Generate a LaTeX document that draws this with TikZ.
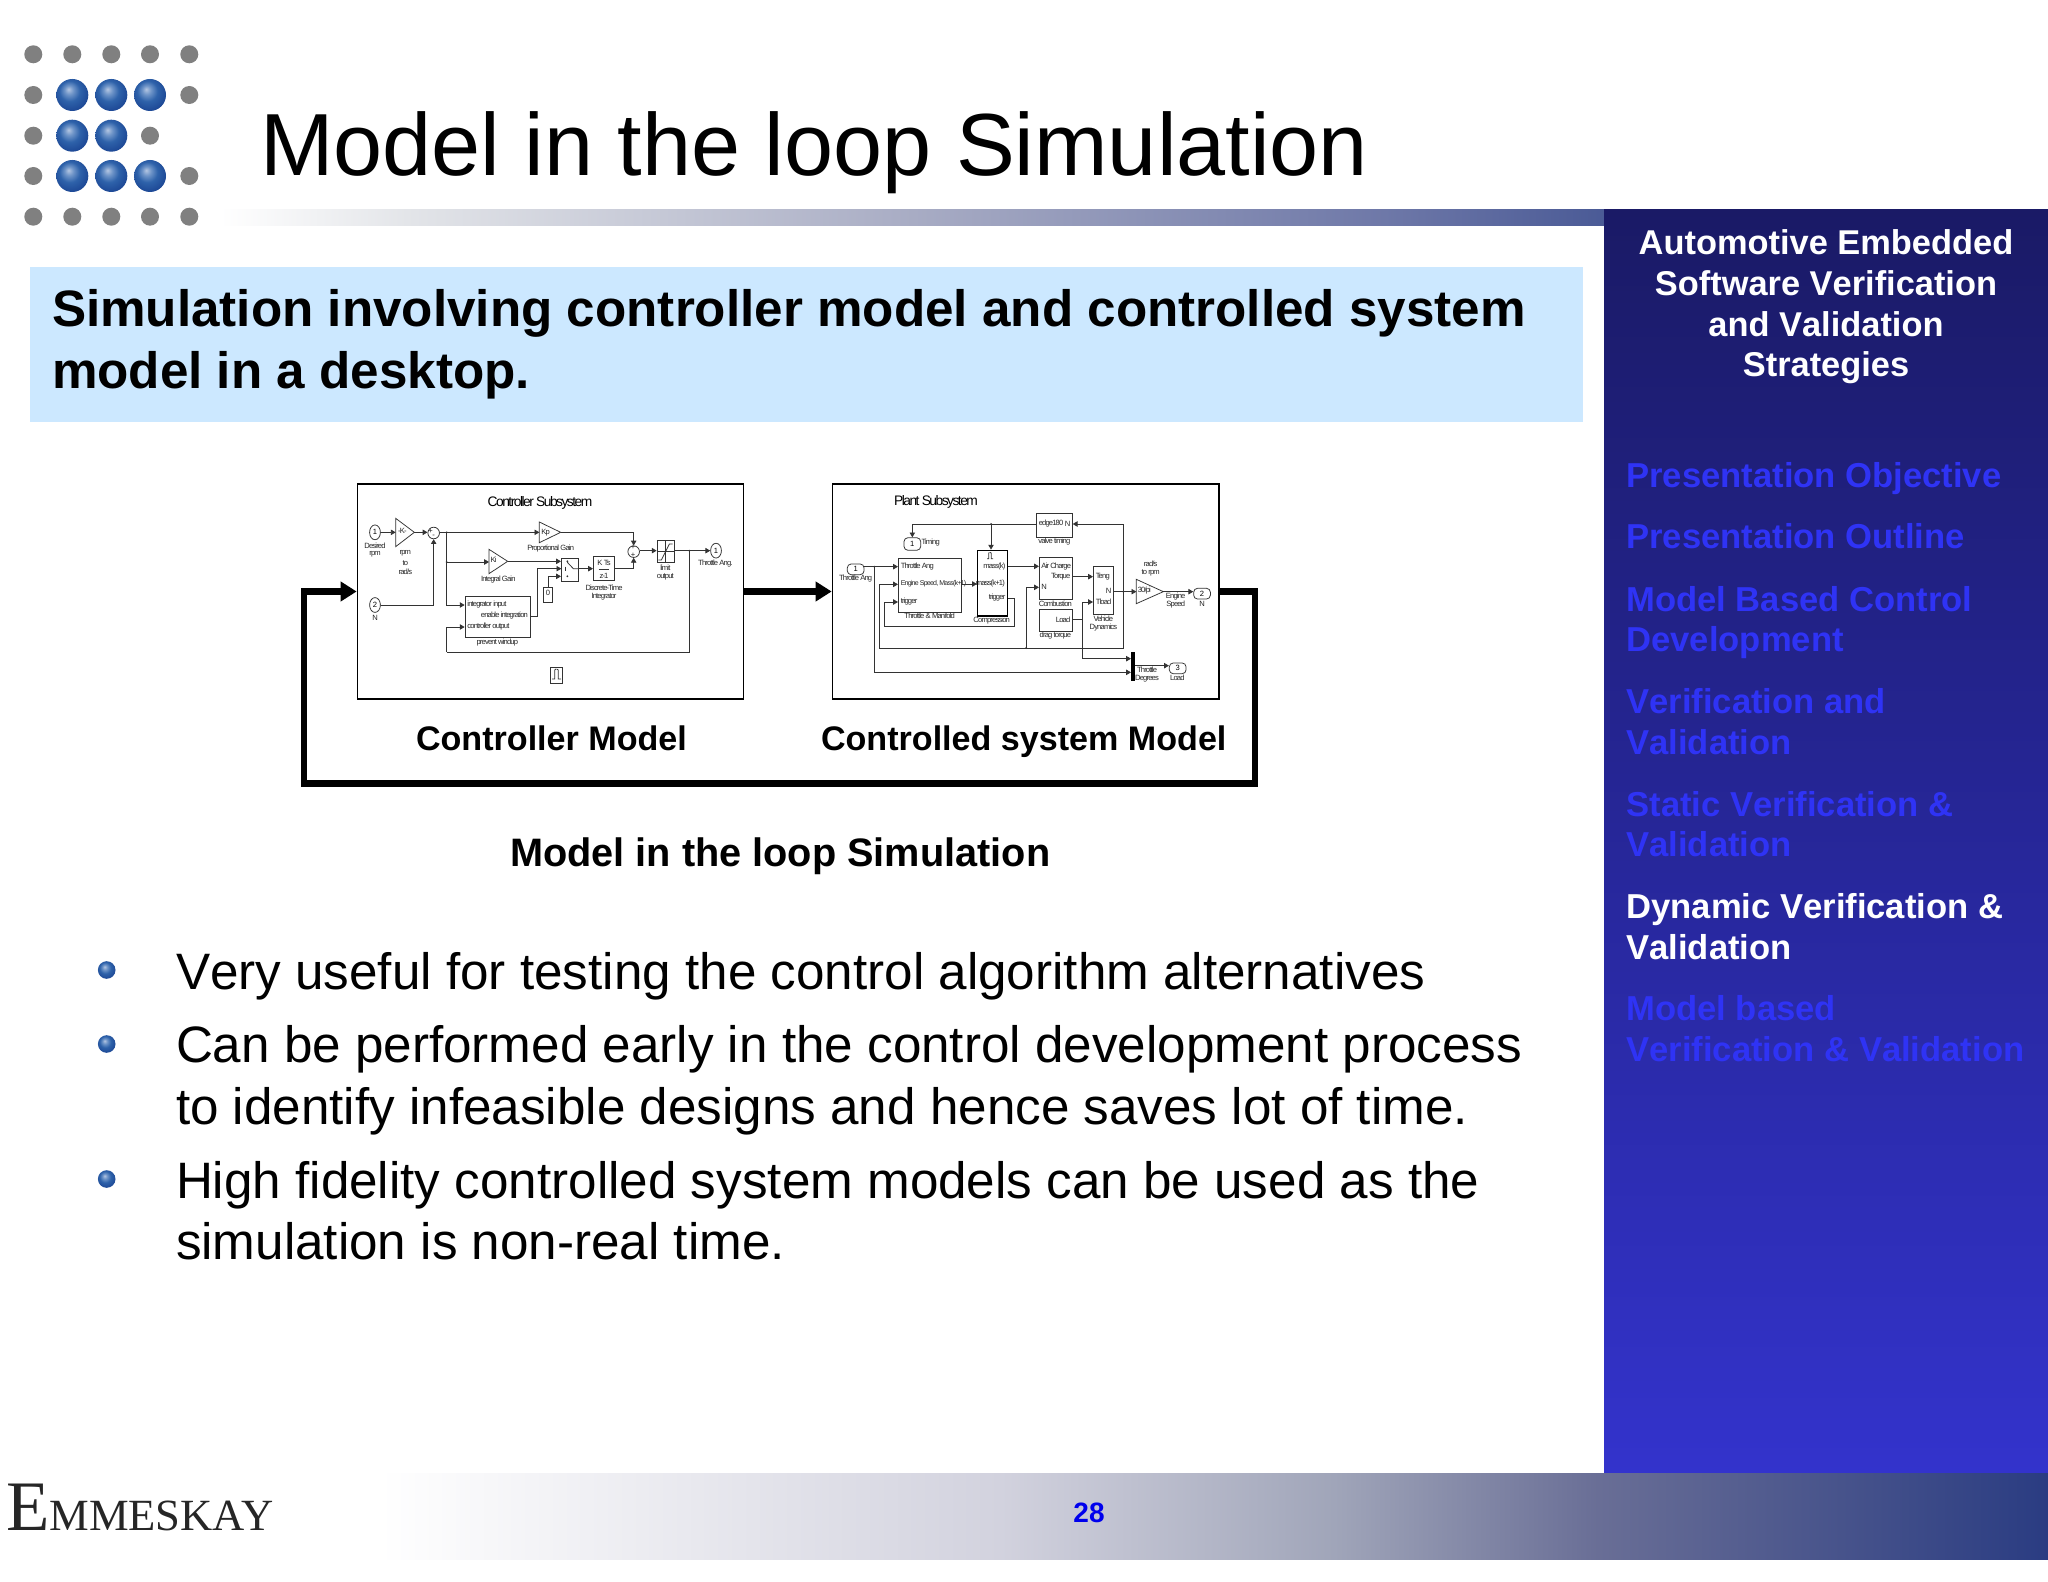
\documentclass[tikz,border=0pt]{standalone}
\usepackage{fontspec}
\setmainfont[Kerning=Off]{Liberation Sans}
\newfontfamily\logoserif{Liberation Serif}
\newfontfamily\simfont[LetterSpace=-11]{Liberation Sans}
\usetikzlibrary{arrows.meta,shapes.geometric,fit}
\definecolor{sidetop}{HTML}{1A1A66}
\definecolor{sidebot}{HTML}{3333CC}
\definecolor{sideitem}{HTML}{2F33F5}
\definecolor{headbox}{HTML}{CCE8FF}
\definecolor{dotgray}{HTML}{808080}
\definecolor{ballA}{HTML}{B4C6E2}
\definecolor{ballB}{HTML}{6E94C8}
\definecolor{ballC}{HTML}{2E62AA}
\definecolor{ballD}{HTML}{1B4593}
\definecolor{fa}{HTML}{FFFFFF}
\definecolor{fb}{HTML}{D2D2DE}
\definecolor{fc}{HTML}{A0A5B9}
\definecolor{fd}{HTML}{696E96}
\definecolor{fe}{HTML}{2A3C82}
\definecolor{bb}{HTML}{E2E4E8}
\definecolor{bc}{HTML}{A8ACC4}
\definecolor{bd}{HTML}{6E78A8}
\definecolor{be}{HTML}{4A5A96}
\definecolor{wirec}{HTML}{333333}
\pgfdeclareradialshading{sphere}{\pgfpoint{-6bp}{9bp}}{
  color(0bp)=(ballA); color(7bp)=(ballB); color(16bp)=(ballC); color(30bp)=(ballD); color(50bp)=(ballD)}
\pgfdeclarehorizontalshading{footshade}{100bp}{
  color(0bp)=(fa); color(25bp)=(fa); color(43.6bp)=(fb); color(53.6bp)=(fc); color(61.5bp)=(fd); color(75bp)=(fe); color(100bp)=(fe)}
\pgfdeclarehorizontalshading{barshade}{100bp}{
  color(0bp)=(fa); color(25bp)=(fa); color(32bp)=(bb); color(50bp)=(bc); color(67bp)=(bd); color(75bp)=(be); color(100bp)=(be)}
\tikzset{
  txt/.style={inner sep=0pt,outer sep=0pt,anchor=base west,text=black},
  sideT/.style={inner sep=0pt,anchor=base,text=white,font=\fontsize{17.2}{20}\selectfont\bfseries},
  sideI/.style={inner sep=0pt,anchor=base west,text=sideitem,font=\fontsize{17.3}{20}\selectfont\bfseries},
  bullettext/.style={txt,font=\fontsize{25.6}{30}\selectfont},
  heading/.style={txt,font=\fontsize{25.6}{30}\selectfont\bfseries},
  greydot/.style={circle,fill=dotgray,minimum size=9pt,inner sep=0pt},
  blueball/.style={circle,shading=sphere,minimum size=16pt,inner sep=0pt},
  bulletdot/.style={circle,shading=sphere,minimum size=8.8pt,inner sep=0pt},
  bigbox/.style={draw=black,fill=white,line width=0.85pt,inner sep=0pt},
  bigarrow/.style={draw=black,line width=3.4pt,miter limit=10,-{Triangle[length=8pt,width=9.5pt]}},
  blk/.style={draw=wirec,line width=0.38pt,inner sep=0pt},
  wire/.style={draw=wirec,line width=0.38pt},
  tri/.style={wire},
  warrow/.style={wire,-{Triangle[length=2.4pt,width=2.7pt]}},
  sl/.style={inner sep=0pt,text=black!85,font=\fontsize{3.8}{4}\simfont},
  sll/.style={sl,anchor=west},
  slr/.style={sl,anchor=east},
  sport/.style={draw=wirec,line width=0.38pt,ellipse,inner sep=0pt,minimum width=5.4pt,minimum height=7.4pt,font=\fontsize{3.8}{4}\simfont},
  rport/.style={draw=wirec,line width=0.38pt,rounded corners=2pt,rectangle,inner sep=0pt,minimum width=8.4pt,minimum height=5.4pt,font=\fontsize{3.8}{4}\simfont},
  ssum/.style={draw=wirec,line width=0.38pt,circle,inner sep=0pt,minimum size=5.8pt},
  bdot/.style={circle,fill=wirec,inner sep=0pt,minimum size=1pt},
}
\begin{document}
\begin{tikzpicture}[x=0.5pt,y=-0.5pt]
\useasboundingbox (0,0) rectangle (2048,1582);
\fill[white] (0,0) rectangle (2048,1582);
% top bar, side panel, footer
\shade[shading=barshade] (220,210) rectangle (1606,226);
\shade[top color=sidetop,bottom color=sidebot] (1604,210) rectangle (2048,1473);
\shade[shading=footshade] (380,1473) rectangle (2048,1559);
% logo
\foreach \i/\x/\y in {a/33.3/54.3,b/72.3/54.3,c/111.3/54.3,d/150/54.3,e/189.3/54.3,f/33.3/95,g/189.3/95,h/33.3/135.7,i/150/135.7,j/33.3/176,k/189.3/176,l/33.3/216.7,m/72.3/216.7,n/111.3/216.7,o/150/216.7,p/189.3/216.7}
  \node[greydot] (gd\i) at (\x,\y) {};
\foreach \i/\x/\y in {a/72.3/95,b/111.3/95,c/150/95,d/72.3/135.7,e/111.3/135.7,f/72.3/176,g/111.3/176,h/150/176}
  \node[blueball] (bb\i) at (\x,\y) {};
% title
\node[txt,font=\fontsize{44.1}{50}\selectfont] (title) at (260,176) {Model in the loop Simulation};
% heading
\fill[headbox] (30,267) rectangle (1583,422);
\node[heading] (headA) at (52,327) {Simulation involving controller model and controlled system};
\node[heading] (headB) at (52,389) {model in a desktop.};
% side panel
\node[sideT] (stA) at (1826,255) {Automotive Embedded};
\node[sideT] (stB) at (1826,296) {Software Verification};
\node[sideT] (stC) at (1826,337) {and Validation};
\node[sideT] (stD) at (1826,377) {Strategies};
\node[sideI] (siA) at (1626,488) {Presentation Objective};
\node[sideI] (siB) at (1626,549) {Presentation Outline};
\node[sideI] (siC) at (1626,611.5) {Model Based Control};
\node[sideI] (siD) at (1626,651.5) {Development};
\node[sideI] (siE) at (1626,713.5) {Verification and};
\node[sideI] (siF) at (1626,754.5) {Validation};
\node[sideI] (siG) at (1626,816) {Static Verification \&};
\node[sideI] (siH) at (1626,856.5) {Validation};
\node[sideI,text=white] (siI) at (1626,918.5) {Dynamic Verification \&};
\node[sideI,text=white] (siJ) at (1626,959) {Validation};
\node[sideI] (siK) at (1626,1020.5) {Model based};
\node[sideI] (siL) at (1626,1061) {Verification \& Validation};
% main boxes
\node[bigbox,fit={(357.5,484) (743.5,699)}] (ctrl) {};
\node[bigbox,fit={(832.5,484) (1219,699)}] (plant) {};
\coordinate (fbR) at (1255,591.5);
\coordinate (fbRB) at (1255,783.5);
\coordinate (fbLB) at (304,783.5);
\coordinate (fbL) at (304,591.5);
\draw[bigarrow] (ctrl.east) -- (plant.west);
\draw[bigarrow] (plant.east) -- (fbR) -- (fbRB) -- (fbLB) -- (fbL) -- (ctrl.west);
\node[txt,font=\fontsize{17.05}{20}\selectfont\bfseries] (lblC) at (416,750.5) {Controller Model};
\node[txt,font=\fontsize{17.05}{20}\selectfont\bfseries] (lblP) at (821,750.5) {Controlled system Model};
\node[txt,font=\fontsize{19.85}{24}\selectfont\bfseries] (lblM) at (510,866) {Model in the loop Simulation};
% bullets
\node[bulletdot] (b1) at (106.7,970) {};
\node[bulletdot] (b2) at (106.7,1044) {};
\node[bulletdot] (b3) at (106.7,1179) {};
\node[bullettext] (bt1) at (176,989) {Very useful for testing the control algorithm alternatives};
\node[bullettext] (bt2) at (176,1062.5) {Can be performed early in the control development process};
\node[bullettext] (bt3) at (176,1124) {to identify infeasible designs and hence saves lot of time.};
\node[bullettext] (bt4) at (176,1198) {High fidelity controlled system models can be used as the};
\node[bullettext] (bt5) at (176,1259) {simulation is non-real time.};
% footer texts
\node[txt,text=black!85,font=\logoserif] (logo) at (6,1530) {\fontsize{35.5}{36}\selectfont E\fontsize{22.3}{24}\selectfont MMESKAY};
\node[inner sep=0pt,anchor=base,text=blue!93!black,font=\fontsize{14}{16}\selectfont\bfseries] (page) at (1089,1522) {28};
% ---------- Controller subsystem (3x zoom coordinates)
\begin{scope}[shift={(340,470)},x=0.16667pt,y=-0.16667pt]
\node[inner sep=0pt,font=\fontsize{6.9}{8}\simfont\color{black}] (cT) at (600,99) {Controller Subsystem};
\node[sport] (cI1) at (105,187) {1};
\node[sl] (cI1a) at (105,226) {Desired};
\node[sl] (cI1b) at (105,254) {rpm};
\node[sport] (cI2) at (105,405) {2};
\node[sl] (cI2a) at (105,444) {N};
\draw[tri] (167,145) -- (223,187) -- (167,230) -- cycle;
\coordinate (cG1i) at (167,187);
\coordinate (cG1o) at (223,187);
\node[sl] (cG1t) at (187,184) {-K-};
\node[sl] (cG1a) at (196,250) {rpm};
\node[sl] (cG1b) at (196,278) {to};
\node[sl] (cG1c) at (196,306) {rad/s};
\node[ssum] (cS1) at (281,189) {};
\node[sl] (cS1a) at (272,185) {+};
\node[sl] (cS1b) at (281,198) {-};
\draw[tri] (598,156) -- (662,187) -- (598,218) -- cycle;
\coordinate (cKpi) at (598,187);
\coordinate (cKpo) at (662,187);
\node[sl] (cKpt) at (617,187) {Kp};
\node[sl] (cKpl) at (632,235) {Proportional Gain};
\draw[tri] (447,238) -- (503,274) -- (447,311) -- cycle;
\coordinate (cKii) at (447,276);
\coordinate (cKio) at (503,274);
\node[sl] (cKit) at (461,270) {Ki};
\node[sl] (cKil) at (475,328) {Integral Gain};
\node[blk,fit={(664,265) (714,333)}] (cSw) {};
\draw[wire] (682,277) -- (700,296) -- (714,296);
\draw[wire] (676,290) -- (676,302);
\node[bdot] (cSwA) at (682,274) {};
\node[bdot] (cSwB) at (682,319) {};
\node[blk,fit={(760,260) (824,332)}] (cDT) {};
\node[sl] (cDTa) at (792,278) {K Ts};
\draw[wire] (776,297) -- (808,297);
\node[sl] (cDTb) at (792,317) {z-1};
\node[sl] (cDTc) at (792,353) {Discrete-Time};
\node[sl] (cDTd) at (792,381) {Integrator};
\node[ssum] (cS2) at (881,245) {};
\node[sl] (cS2a) at (879,233) {+};
\node[sl] (cS2b) at (879,256) {+};
\node[blk,fit={(951,211) (1002,278)}] (cSat) {};
\draw[wire,line width=0.25pt] (976,211) -- (976,278) (951,245) -- (1002,245);
\draw[wire] (955,270) -- (964,270) -- (988,222) -- (998,222);
\node[sl] (cSata) at (976,292) {limit};
\node[sl] (cSatb) at (976,319) {output};
\node[sport] (cO1) at (1128,242) {1};
\node[sl] (cO1a) at (1126,280) {Throttle Ang.};
\node[blk,fit={(375,379) (570,503)}] (cPW) {};
\node[sll] (cPWa) at (381,405) {integrator input};
\node[slr] (cPWb) at (565,438) {enable integration};
\node[sll] (cPWc) at (381,471) {controller output};
\node[sl] (cPWl) at (472,517) {prevent windup};
\node[blk,fit={(611,351) (638,398)}] (cZ) {};
\node[sl] (cZt) at (624,370) {0};
\node[blk,fit={(632,592) (666,640)}] (cTr) {};
\draw[wire] (636,627) -- (644,627) -- (644,600) -- (648,597) (650,597) -- (655,600) -- (655,627) -- (663,627);
\coordinate (cB1) at (320,187);
\coordinate (cB2) at (320,276);
\coordinate (cB3) at (1048,242);
\coordinate (cE1) at (320,547);
\coordinate (cE2) at (1048,547);
\node[bdot] at (cB1) {};
\node[bdot] at (cB2) {};
\node[bdot] at (cB3) {};
\draw[warrow] (cI1.east) -- (cG1i);
\draw[warrow] (cG1o) -- (cS1.west |- cG1o);
\draw[warrow] (cI2.east) -| (cS1.south);
\draw[warrow] (cS1.east |- cB1) -- (cKpi);
\draw[wire] (cB1) -- (cB2);
\draw[warrow] (cB2) |- (cPW.west |- cPWa);
\draw[warrow] (cB2) -- (cKii);
\draw[warrow] (cKio) -- (cSw.west |- cKio);
\draw[warrow] (cKpo) -| (cS2.north);
\draw[warrow] (cPW.east |- cPWb) -- (592,438) |- (664,296);
\draw[warrow] (cZ.north) |- (cSw.west |- cSwB);
\draw[warrow] (cSw.east |- 0,296) -- (cDT.west |- 0,296);
\draw[warrow] (cDT.east |- 0,296) -| (cS2.south);
\draw[warrow] (cS2.east |- 0,242) -- (cSat.west |- 0,242);
\draw[warrow] (cSat.east |- 0,242) -- (cO1.west);
\draw[wire] (cB3) -- (cE2) -- (cE1);
\draw[warrow] (cE1) |- (cPW.west |- cPWc);
\end{scope}
% ---------- Plant subsystem (3x zoom coordinates)
\begin{scope}[shift={(820,470)},x=0.16667pt,y=-0.16667pt]
\node[inner sep=0pt,font=\fontsize{6.9}{8}\simfont\color{black}] (pT) at (348,97) {Plant Subsystem};
\node[blk,fit={(650,130) (757,201)}] (pV) {};
\node[sll] (pVa) at (655,162) {edge180};
\node[slr] (pVb) at (752,162) {N};
\node[sl] (pVl) at (703,214) {valve timing};
\node[rport,minimum height=6.3pt] (pTi) at (277,222) {1};
\node[sl] (pTil) at (332,219) {Timing};
\node[blk,line width=0.75pt,draw=black,fit={(473,241) (562,438)}] (pC) {};
\draw[wire] (501,266) -- (506,266) -- (506,250) -- (508,247) (511,247) -- (514,250) -- (514,266) -- (519,266);
\node[slr] (pCa) at (557,290) {mass(k)};
\node[sl] (pCb) at (511,342) {mass(k+1)};
\node[slr] (pCc) at (557,384) {trigger};
\node[sl] (pCl) at (515,453) {Compression};
\node[blk,fit={(235,265) (425,426)}] (pM) {};
\node[sll] (pMa) at (241,289) {Throttle Ang};
\node[sll,font=\fontsize{3.5}{4}\simfont] (pMb) at (241,342) {Engine Speed, Mass(k+1)};
\node[sll] (pMc) at (241,396) {trigger};
\node[sl] (pMl) at (329,437) {Throttle \& Manifold};
\node[rport] (pI1) at (107,298) {1};
\node[sl] (pI1l) at (107,326) {Throttle Ang};
\node[blk,fit={(658,262) (757,387)}] (pB) {};
\node[sll] (pBa) at (663,289) {Air Charge};
\node[sll] (pBb) at (663,352) {N};
\node[slr] (pBc) at (752,320) {Torque};
\node[sl] (pBl) at (706,400) {Combustion};
\node[blk,fit={(658,418) (757,485)}] (pD) {};
\node[slr] (pDa) at (752,448) {Load};
\node[sl] (pDl) at (706,498) {drag torque};
\node[blk,fit={(820,290) (880,433)}] (pH) {};
\node[sll] (pHa) at (826,320) {Teng};
\node[sll] (pHb) at (826,396) {Tload};
\node[slr] (pHc) at (875,362) {N};
\node[sl] (pHd) at (850,447) {Vehicle};
\node[sl] (pHe) at (850,474) {Dynamics};
\draw[tri] (949,328) -- (1030,365) -- (949,401) -- cycle;
\coordinate (pGi) at (949,365);
\coordinate (pGo) at (1030,365);
\node[sl] (pGt) at (973,363) {30/pi};
\node[sl] (pGa) at (992,282) {rad/s};
\node[sl] (pGb) at (992,309) {to rpm};
\node[sl] (pGc) at (1067,379) {Engine};
\node[sl] (pGd) at (1067,405) {Speed};
\node[rport] (pO2) at (1146,371) {2};
\node[sl] (pO2l) at (1146,401) {N};
\node[fill=black,inner sep=0pt,fit={(934,546) (945,634)}] (pX) {};
\node[sl] (pXa) at (981,600) {Throttle};
\node[sl] (pXb) at (981,626) {Degrees};
\node[rport] (pO3) at (1073,595) {3};
\node[sl] (pO3l) at (1072,622) {Load};
\coordinate (pJ1) at (513,162);
\coordinate (pJ2) at (163,290);
\coordinate (pJ3) at (618,534);
\coordinate (pJ4) at (910,365);
\coordinate (pJ5) at (788,448);
\coordinate (pL1) at (178,343);
\coordinate (pL2) at (178,534);
\coordinate (pL3) at (910,534);
\coordinate (pR1) at (584,470);
\coordinate (pR2) at (193,470);
\node[bdot] at (pJ1) {};
\node[bdot] at (pJ2) {};
\node[bdot] at (pJ3) {};
\node[bdot] at (pJ4) {};
\draw[warrow] (pV.west |- pVa) -| (pTi.north);
\draw[warrow] (pJ1) -- (pC.north -| pJ1);
\draw[warrow] (pI1.east |- pJ2) -- (pM.west |- pJ2);
\draw[wire] (pJ2) -- (163,607);
\draw[warrow] (163,607) -- (pX.west |- 0,607);
\draw[warrow] (pL1) -- (pM.west |- pL1);
\draw[wire] (pL1) -- (pL2) -- (pL3) -- (pJ4);
\draw[wire] (pJ4) -- (910,162);
\draw[warrow] (910,162) -- (pV.east |- 0,162);
\draw[warrow] (pJ3) |- (pB.west |- pBb);
\draw[warrow] (pM.east |- pMb) -- (pC.west |- pMb);
\draw[wire] (pC.east |- pCc) -| (pR1);
\draw[wire] (pR1) -- (pR2);
\draw[warrow] (pR2) |- (pM.west |- pMc);
\draw[warrow] (pC.east |- pBa) -- (pB.west |- pBa);
\draw[warrow] (pB.east |- pBc) -- (pH.west |- pBc);
\draw[wire] (pD.east |- pDa) -- (pJ5);
\draw[warrow] (pJ5) |- (pH.west |- pHb);
\draw[warrow] (pJ5) |- (pX.west |- 0,566);
\draw[warrow] (pH.east |- pGi) -- (pGi);
\draw[warrow] (pGo) -- (pO2.west |- pGo);
\draw[warrow] (pX.east |- 0,587) -- (pO3.west |- 0,587);
\end{scope}
\end{tikzpicture}
\end{document}
